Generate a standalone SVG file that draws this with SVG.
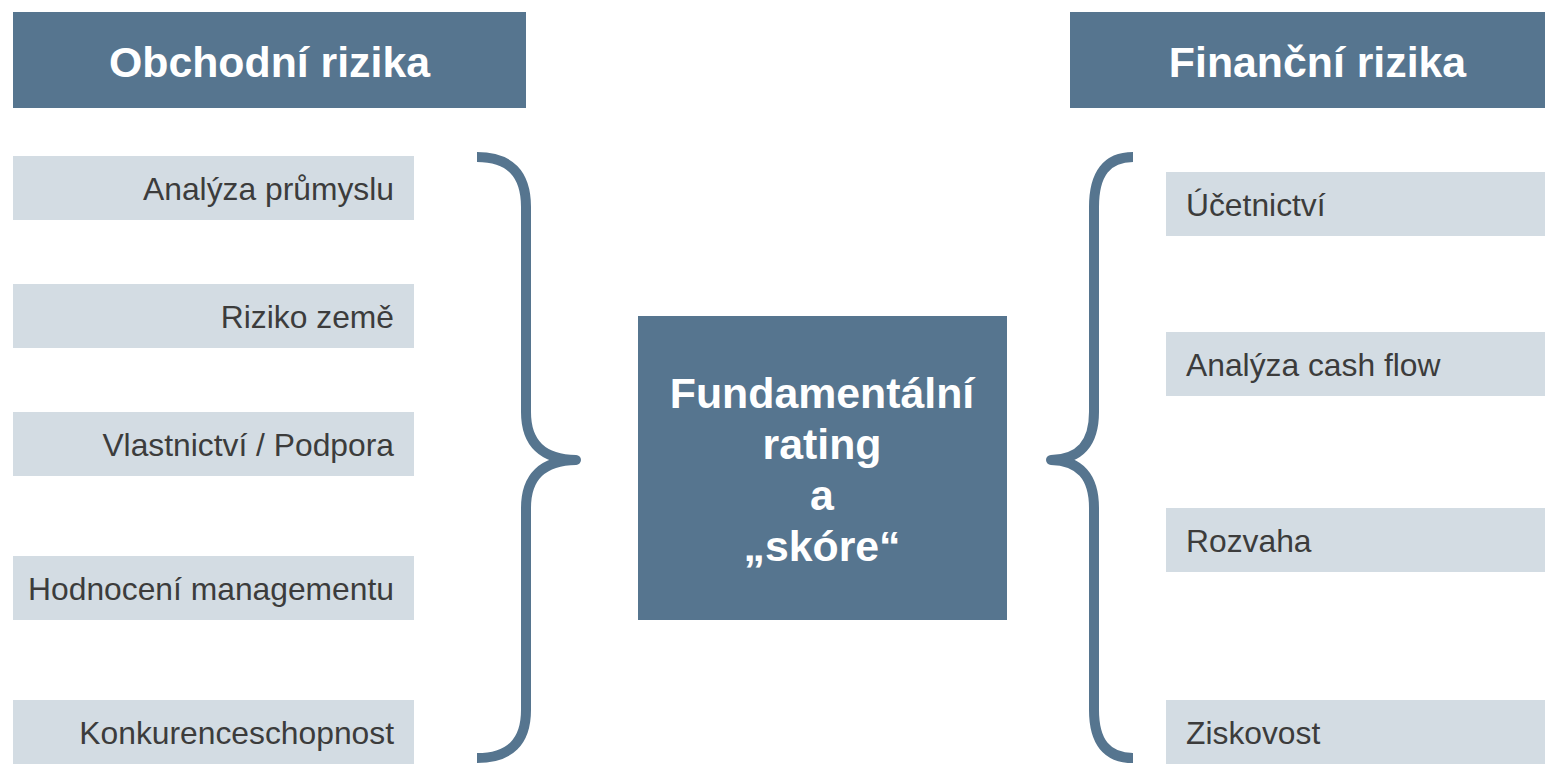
<svg xmlns="http://www.w3.org/2000/svg" width="1545" height="764" viewBox="0 0 1545 764">
<style>
.hdr{fill:#56758F}
.item{fill:#D3DCE3}
.ht{font-family:"Liberation Sans",Arial,sans-serif;font-weight:bold;font-size:42.8px;fill:#FFFFFF;text-anchor:middle}
.it{font-family:"Liberation Sans",Arial,sans-serif;font-size:31.8px;fill:#3C3C3C}
.r{text-anchor:end}
.brace{fill:none;stroke:#56758F;stroke-width:10;stroke-linejoin:round}
</style>
<rect width="1545" height="764" fill="#FFFFFF"/>
<g id="hdr-left"><rect class="hdr" x="13" y="12" width="513" height="96"/><text class="ht" x="269.5" y="77">Obchodní rizika</text></g>
<g id="hdr-right"><rect class="hdr" x="1070" y="12" width="475" height="96"/><text class="ht" x="1317.5" y="77">Finanční rizika</text></g>
<g id="l1"><rect class="item" x="13" y="156" width="401" height="64"/><text class="it r" x="394" y="200">Analýza průmyslu</text></g>
<g id="l2"><rect class="item" x="13" y="284" width="401" height="64"/><text class="it r" x="394" y="328">Riziko země</text></g>
<g id="l3"><rect class="item" x="13" y="412" width="401" height="64"/><text class="it r" x="394" y="456">Vlastnictví / Podpora</text></g>
<g id="l4"><rect class="item" x="13" y="556" width="401" height="64"/><text class="it r" x="394" y="600">Hodnocení managementu</text></g>
<g id="l5"><rect class="item" x="13" y="700" width="401" height="64"/><text class="it r" x="394" y="744">Konkurenceschopnost</text></g>
<g id="r1"><rect class="item" x="1166" y="172" width="379" height="64"/><text class="it" x="1186" y="216">Účetnictví</text></g>
<g id="r2"><rect class="item" x="1166" y="332" width="379" height="64"/><text class="it" x="1186" y="376">Analýza cash flow</text></g>
<g id="r3"><rect class="item" x="1166" y="508" width="379" height="64"/><text class="it" x="1186" y="552">Rozvaha</text></g>
<g id="r4"><rect class="item" x="1166" y="700" width="379" height="64"/><text class="it" x="1186" y="744">Ziskovost</text></g>
<g id="center"><rect class="hdr" x="638" y="316" width="369" height="304"/>
<text class="ht" x="822" y="408">Fundamentální</text>
<text class="ht" x="822" y="459">rating</text>
<text class="ht" x="822" y="510">a</text>
<text class="ht" x="822" y="561">„skóre“</text></g>
<g id="connectors">
<path class="brace" d="M477 157 Q526 157 526 207 L526 412 Q526 459 576 460 Q526 461 526 508 L526 710 Q526 758 477 758"/>
<path class="brace" d="M1133 157 Q1094 157 1094 207 L1094 412 Q1094 459 1051 460 Q1094 461 1094 508 L1094 710 Q1094 758 1133 758"/>
</g>
</svg>
